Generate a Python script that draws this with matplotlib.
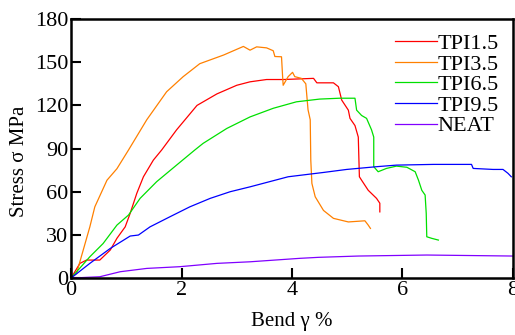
import matplotlib.pyplot as plt

plt.rcParams['font.family'] = ['Liberation Serif', 'DejaVu Serif']

# TPI1.5 (red)
x15 = [0, 0.16, 0.28, 0.52, 0.71, 0.83, 0.98, 1.07, 1.19, 1.31, 1.49, 1.64, 1.91, 2.28, 2.64,
       3.0, 3.24, 3.54, 3.84, 4.39, 4.45, 4.75, 4.84, 4.9, 5.02, 5.05, 5.14, 5.2, 5.22, 5.26,
       5.38, 5.53, 5.59, 5.59]
y15 = [0, 10.2, 12.5, 12.5, 19.5, 27.6, 35.6, 45, 58.9, 70.4, 82, 89, 103, 120, 128,
       134, 136.4, 138, 138, 138.8, 135.7, 135.7, 133, 123.7, 116.7, 111, 106, 98, 70.4, 68,
       61, 55.4, 52, 46]

# TPI3.5 (orange)
x35 = [0, 0.1, 0.34, 0.43, 0.65, 0.83, 1.04, 1.37, 1.73, 2.03, 2.33, 2.76, 3.12, 3.24, 3.36,
       3.54, 3.66, 3.69, 3.81, 3.83, 3.84, 3.93, 4.01, 4.05, 4.17, 4.25, 4.29, 4.33, 4.34,
       4.36, 4.42, 4.57, 4.75, 5.02, 5.32, 5.38, 5.42]
y35 = [0, 3.3, 35.6, 49.5, 68, 76, 89, 110, 129.5, 140, 149, 155, 161, 158.4, 160.7,
       160, 158, 154, 153.8, 140, 134, 140, 143, 140, 138.8, 135, 117, 110, 82,
       65.8, 56.5, 47, 41.5, 39, 39.8, 36.8, 34.5]

# TPI6.5 (green)
x65 = [0, 0.34, 0.58, 0.83, 1.04, 1.25, 1.55, 1.91, 2.24, 2.39, 2.82, 3.24, 3.66, 4.08, 4.5,
       4.86, 5.14, 5.17, 5.26, 5.35, 5.44, 5.48, 5.48, 5.56, 5.71, 5.89, 6.08, 6.23, 6.29,
       6.35, 6.41, 6.43, 6.44, 6.53, 6.65]
y65 = [0, 14.8, 24, 36.8, 43.8, 55.4, 67, 78.5, 89, 93.6, 104, 112, 118, 122.5, 124.4,
       125, 125, 116.7, 113, 111, 103, 98, 77.4, 73.9, 76.2, 77.8, 77, 73.9, 68,
       61, 57.7, 45, 28.7, 27.6, 26.4]

# TPI9.5 (blue)
x95 = [0, 0.34, 0.71, 1.07, 1.22, 1.43, 1.79, 2.15, 2.52, 2.88, 3.24, 3.93, 4.57, 4.99, 5.53,
       5.89, 6.56, 7.25, 7.28, 7.64, 7.82, 7.91, 7.97]
y95 = [0, 10.2, 20.6, 29.2, 29.9, 35.6, 42.6, 49.5, 55.4, 60, 63.4, 70.4, 73.4, 75.5, 77.4,
       78.5, 79, 79, 76.2, 75.5, 75.5, 72.8, 70.4]

# NEAT (purple)
xneat = [0, 0.52, 0.89, 1.37, 1.97, 2.64, 3.24, 4.14, 4.48, 5.2, 6.44, 8.0]
yneat = [0, 0.9, 4.4, 6.7, 7.9, 10.2, 11.3, 13.7, 14.4, 15.3, 16, 15.3]

fig = plt.figure(figsize=(5.15, 3.35), dpi=100)
ax = fig.add_axes([0.138, 0.170, 0.858, 0.773])

ax.plot(x15, y15, color='#ff0000', lw=0.9, label='TPI1.5')
ax.plot(x35, y35, color='#ff8000', lw=0.9, label='TPI3.5')
ax.plot(x65, y65, color='#00e000', lw=0.9, label='TPI6.5')
ax.plot(x95, y95, color='#0000ff', lw=0.9, label='TPI9.5')
ax.plot(xneat, yneat, color='#8000ff', lw=0.9, label='NEAT')

ax.set_xlim(0, 8)
ax.set_ylim(0, 180)
ax.set_xticks([0, 2, 4, 6, 8])
ax.set_yticks([0, 30, 60, 90, 120, 150, 180])
ax.tick_params(direction='in', length=7, width=1.5, labelsize=16, pad=2)
for s in ax.spines.values():
    s.set_linewidth(1.8)

ax.set_xlabel('Bend γ %', fontsize=15, labelpad=9)
ax.set_ylabel('Stress σ MPa', fontsize=15)
ax.yaxis.set_label_coords(-0.095, 0.45)

ax.legend(loc='upper right', frameon=False, fontsize=16, handlelength=1.9,
          handletextpad=0.0, labelspacing=0.0, borderaxespad=0.25)

fig.savefig('out.png', dpi=100)
